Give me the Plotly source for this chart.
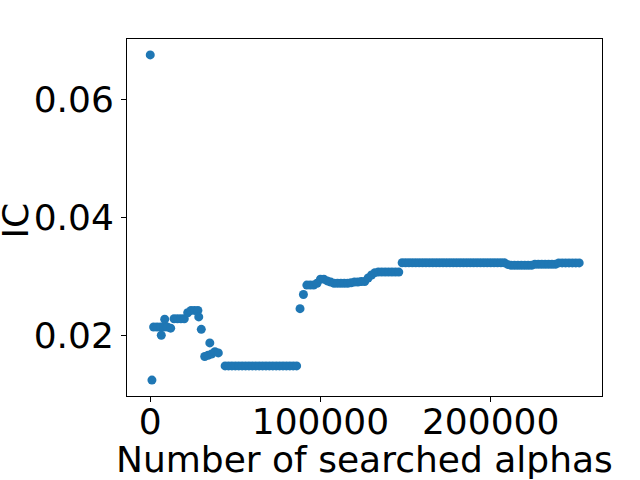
import plotly.graph_objects as go

# Number of searched alphas (x) and IC values (y)
searched_alphas = [
    0, 1000, 2000, 4000, 6000, 6500, 8000, 8500, 10000, 12000,
    14000, 16000, 18000, 20000, 22000, 24000, 26000, 28000, 28500, 30000,
    32000, 34000, 35000, 36000, 38000, 40000,
    44000, 46000, 48000, 50000, 52000, 54000, 56000, 58000, 60000, 62000,
    64000, 66000, 68000, 70000, 72000, 74000, 76000, 78000, 80000, 82000,
    84000, 86000,
    88000, 90000, 92000, 94000, 96000, 98000, 100000, 102000, 104000, 106000,
    108000, 110000, 112000, 114000, 116000, 118000, 120000, 122000, 124000, 126000,
    128000, 130000, 132000, 134000, 136000, 138000, 140000, 142000, 144000, 146000,
    148000, 150000, 152000, 154000, 156000, 158000, 160000, 162000, 164000, 166000,
    168000, 170000, 172000, 174000, 176000, 178000, 180000, 182000, 184000, 186000,
    188000, 190000, 192000, 194000, 196000, 198000, 200000, 202000, 204000, 206000,
    208000, 210000, 212000, 214000, 216000, 218000, 220000, 222000, 224000, 226000,
    228000, 230000, 232000, 234000, 236000, 238000, 240000, 242000, 244000, 246000,
    248000, 250000, 252000,
]
ic_values = [
    0.0675, 0.0124, 0.0214, 0.0214, 0.0214, 0.0200, 0.0214, 0.0227, 0.0214, 0.0212,
    0.0228, 0.0228, 0.0228, 0.0228, 0.0238, 0.0242, 0.0242, 0.0242, 0.0231, 0.0210,
    0.0164, 0.0166, 0.0187, 0.0168, 0.0172, 0.0170,
    0.0148, 0.0148, 0.0148, 0.0148, 0.0148, 0.0148, 0.0148, 0.0148, 0.0148, 0.0148,
    0.0148, 0.0148, 0.0148, 0.0148, 0.0148, 0.0148, 0.0148, 0.0148, 0.0148, 0.0148,
    0.0148, 0.0148,
    0.0245, 0.0269, 0.0285, 0.0285, 0.0285, 0.0288, 0.0295, 0.0295, 0.0292, 0.0290,
    0.0288, 0.0288, 0.0288, 0.0288, 0.0288, 0.0289, 0.0290, 0.0290, 0.0291, 0.0291,
    0.0297, 0.0302, 0.0306, 0.0307, 0.0307, 0.0307, 0.0307, 0.0307, 0.0307, 0.0307,
    0.03228, 0.03228, 0.03228, 0.03228, 0.03228, 0.03228, 0.03228, 0.03228, 0.03228, 0.03228,
    0.03228, 0.03228, 0.03228, 0.03228, 0.03228, 0.03228, 0.03228, 0.03228, 0.03228, 0.03228,
    0.03228, 0.03228, 0.03228, 0.03228, 0.03228, 0.03228, 0.03228, 0.03228, 0.03228, 0.03228,
    0.03228, 0.0320, 0.03185, 0.03185, 0.03185, 0.03185, 0.03185, 0.03185, 0.03185, 0.03202,
    0.03202, 0.03202, 0.03202, 0.03202, 0.03202, 0.03202, 0.03225, 0.03225, 0.03225, 0.03225,
    0.03225, 0.03225, 0.03225,
]

x_tick_vals = [0, 100000, 200000]
x_tick_text = ["0", "100000", "200000"]
y_tick_vals = [0.02, 0.04, 0.06]
y_tick_text = ["0.02", "0.04", "0.06"]
x_label = "Number of searched alphas"
y_label = "IC"

FONT = "DejaVu Sans"
FS = 36
fig = go.Figure()
fig.add_trace(go.Scatter(
    x=searched_alphas, y=ic_values, mode="markers",
    marker=dict(color="#1f77b4", size=9, line=dict(width=0)),
    showlegend=False,
))

axis_common = dict(
    showgrid=False, zeroline=False, showline=True, linecolor="black", linewidth=1,
    mirror=True, ticks="outside", ticklen=5, tickwidth=1, tickcolor="black",
    tickfont=dict(family=FONT, size=FS, color="black"), automargin=False,
)
fig.update_xaxes(range=[-13650, 265400], tickmode="array", ticklabelstandoff=-11,
                 tickvals=x_tick_vals, ticktext=x_tick_text, **axis_common)
fig.update_yaxes(range=[0.0097, 0.0702], tickmode="array",
                 tickvals=y_tick_vals, ticktext=y_tick_text, **axis_common)

fig.add_annotation(text=x_label, xref="paper", yref="paper", x=0.5, y=0,
                   xanchor="center", yanchor="middle", yshift=-63, showarrow=False,
                   font=dict(family=FONT, size=FS, color="black"))
fig.add_annotation(text=y_label, xref="paper", yref="paper", x=0, y=0.5,
                   xanchor="center", yanchor="middle", xshift=-112, yshift=-3,
                   textangle=-90, showarrow=False,
                   font=dict(family=FONT, size=FS, color="black"))

fig.update_layout(
    width=640, height=480, autosize=False,
    margin=dict(l=127, r=38, t=39, b=84, pad=0),
    plot_bgcolor="white", paper_bgcolor="white",
    font=dict(family=FONT, color="black"),
)
fig.write_html("out.html", config={"displayModeBar": False},
               post_script="document.body.style.margin='0';")
